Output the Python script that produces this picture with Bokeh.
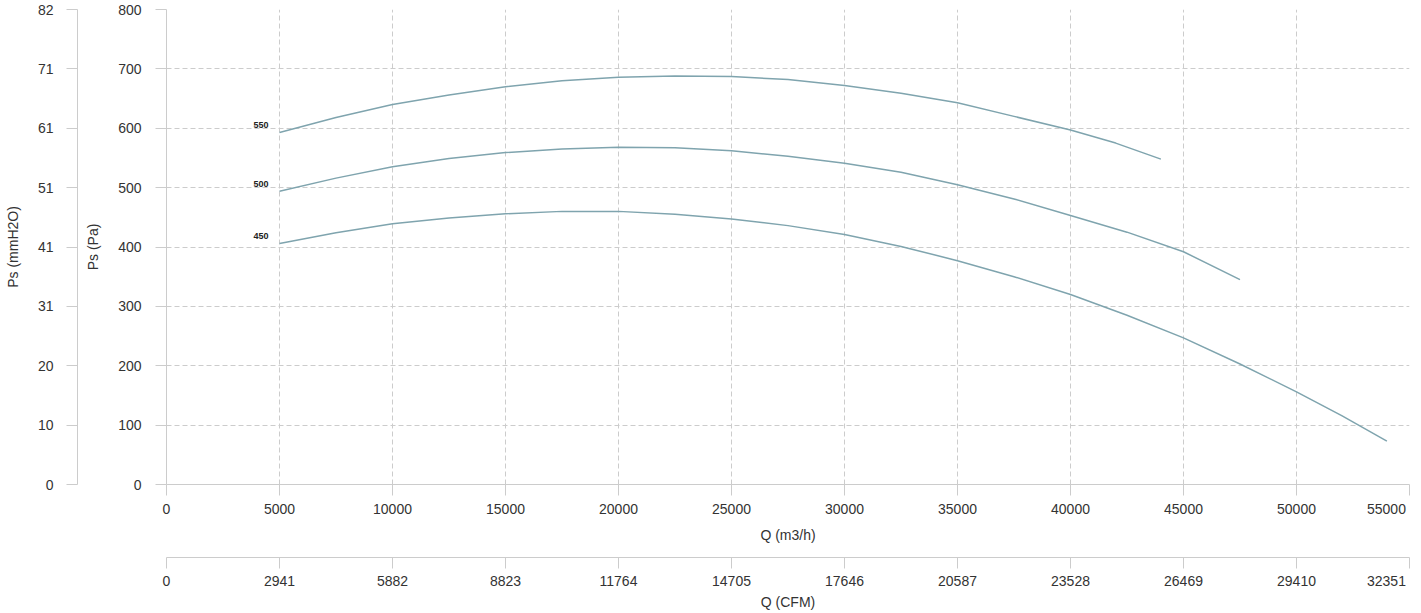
from bokeh.plotting import figure
from bokeh.models import LinearAxis, FixedTicker, Title, Range1d, ColumnDataSource
from bokeh.embed import file_html
from bokeh.resources import INLINE
from bokeh.core.properties import value

# ---- data ----
q_450 = [5000, 7500, 10000, 12500, 15000, 17500, 20000, 22500, 25000, 27500, 30000,
         32500, 35000, 37500, 40000, 42500, 45000, 47500, 50000, 52000, 54000]
ps_450 = [406, 424, 439, 449, 456, 460, 460, 455, 447, 436, 421,
          401, 377, 350, 320, 285, 247, 203, 156, 116, 73]

q_500 = [5000, 7500, 10000, 12500, 15000, 17500, 20000, 22500, 25000, 27500, 30000,
         32500, 35000, 37500, 40000, 42500, 45000, 47500]
ps_500 = [494, 516, 535, 549, 559, 565, 568, 567, 562, 553, 541,
          526, 505, 481, 453, 425, 392, 345]

q_550 = [5000, 7500, 10000, 12500, 15000, 17500, 20000, 22500, 25000, 27500, 30000,
         32500, 35000, 37500, 40000, 42000, 44000]
ps_550 = [593, 618, 640, 656, 670, 680, 686, 688, 687, 682, 672,
          659, 643, 620, 597, 575, 548]

curve_names = ["450", "500", "550"]

x_ticks = [0, 5000, 10000, 15000, 20000, 25000, 30000, 35000, 40000, 45000, 50000, 55000]
x_labels = ["0", "5000", "10000", "15000", "20000", "25000", "30000", "35000",
            "40000", "45000", "50000", "55000"]
cfm_labels = ["0", "2941", "5882", "8823", "11764", "14705", "17646", "20587",
              "23528", "26469", "29410", "32351"]
y_ticks = [0, 100, 200, 300, 400, 500, 600, 700, 800]
y_labels = ["0", "100", "200", "300", "400", "500", "600", "700", "800"]
mm_labels = ["0", "10", "20", "31", "41", "51", "61", "71", "82"]

# ---- style ----
FONT = "Liberation Sans"
TXT = "#333333"
AX = "#cccccc"
LINE = "#7fa4ae"
NBSP = "\u00a0"

p = figure(width=1421, height=613, output_backend="svg", toolbar_location=None,
           x_range=Range1d(0, 55000), y_range=Range1d(0, 800),
           min_border_left=166, min_border_right=12, min_border_top=9,
           min_border_bottom=129)
p.outline_line_color = None
p.background_fill_color = "white"
p.border_fill_color = "white"

for g, t in ((p.xgrid, x_ticks), (p.ygrid, y_ticks)):
    g.ticker = FixedTicker(ticks=t)
    g.grid_line_color = AX
    g.grid_line_dash = "5 3"
    g.grid_line_width = 1


def style_axis(ax, ticks, labels, title, standoff, title_standoff):
    ax.ticker = FixedTicker(ticks=ticks)
    ax.major_label_overrides = {t: l for t, l in zip(ticks, labels)}
    ax.axis_line_color = AX
    ax.major_tick_line_color = AX
    ax.minor_tick_line_color = None
    ax.major_tick_in = 0
    ax.major_tick_out = 11
    ax.major_label_standoff = standoff
    ax.major_label_text_font = FONT
    ax.major_label_text_font_size = "14px"
    ax.major_label_text_color = TXT
    ax.axis_label = title
    ax.axis_label_text_font = FONT
    ax.axis_label_text_font_size = "14px"
    ax.axis_label_text_font_style = "normal"
    ax.axis_label_text_color = TXT
    ax.axis_label_standoff = title_standoff


# the last x tick labels sit a little left of their tick (trailing no-break spaces)
x_main = list(x_labels[:-1]) + [x_labels[-1] + NBSP * 4]
x_cfm = list(cfm_labels[:-1]) + [cfm_labels[-1] + NBSP * 4]

style_axis(p.xaxis[0], x_ticks, x_main, "Q (m3/h)", 5, 7)
style_axis(p.yaxis[0], y_ticks, y_labels, "Ps (Pa)", 14, 14)

p.add_layout(Title(text=" ", text_font_size="9px", standoff=0), "below")
p.add_layout(Title(text=" ", text_font_size="3px", standoff=0), "left")

cfm_axis = LinearAxis()
style_axis(cfm_axis, x_ticks, x_cfm, "Q (CFM)", 4, 2)
p.add_layout(cfm_axis, "below")

mm_axis = LinearAxis()
style_axis(mm_axis, y_ticks, mm_labels, "Ps (mmH2O)", 13, 14)
p.add_layout(mm_axis, "left")

series = [(q_450, ps_450), (q_500, ps_500), (q_550, ps_550)]
for name, (q, ps) in zip(curve_names, series):
    p.line(q, ps, line_color=LINE, line_width=1.5)
    src = ColumnDataSource(dict(x=[q[0]], y=[ps[0]], t=[name]))
    p.text(x="x", y="y", text="t", source=src, text_align="right",
           text_baseline="bottom", x_offset=-11, y_offset=-4,
           text_font=value(FONT), text_font_size="9px", text_font_style="bold",
           text_color="#222222")

open("out.html", "w").write(file_html(p, INLINE))
